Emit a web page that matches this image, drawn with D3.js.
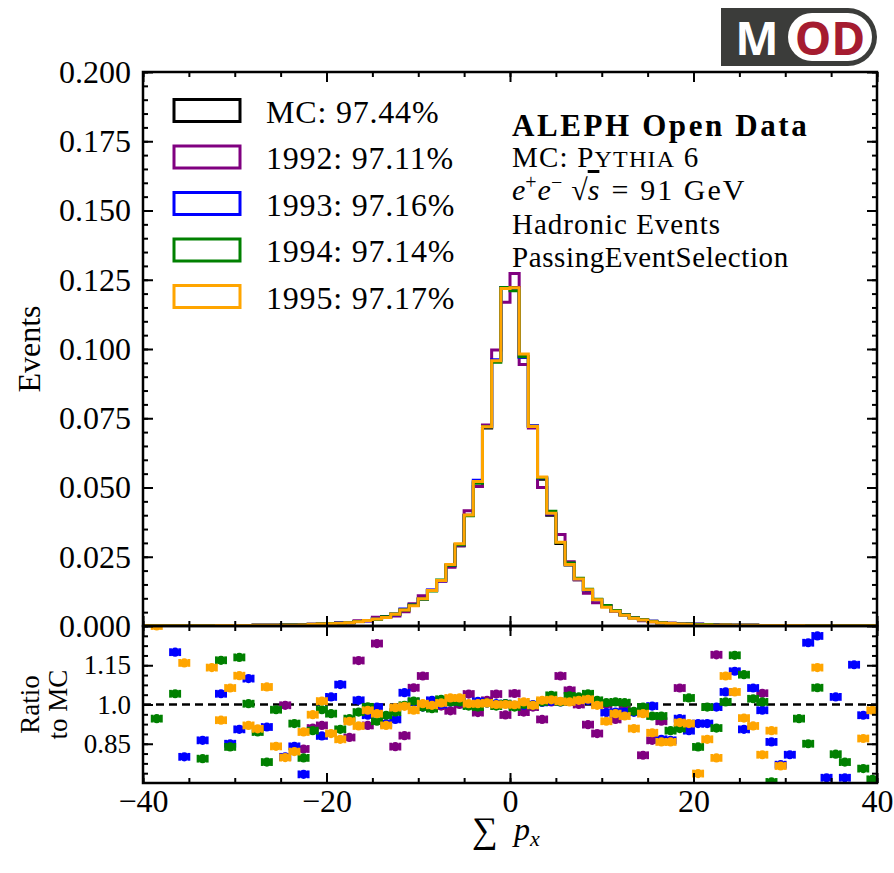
<!DOCTYPE html>
<meta charset="utf-8">
<html>
<head>
<!-- Load d3.js -->
<script src="https://d3js.org/d3.v7.min.js"></script>
<style>
  body { margin: 0; background: #fff; }
  svg text { font-family: "Liberation Serif", "DejaVu Serif", serif; fill: #000; }
</style>
</head>
<body>
<div id="my_dataviz"></div>
<script>

// bins of width 1 from -40 to 40 (left edges)
var binEdges = d3.range(-40, 40);

// normalised event counts per bin
var mc = [
  0.0001,0.0001,0.0001,0.0001,0.0001,0.0001,0.0001,0.0001,0.0002,0.0002,
  0.0002,0.0002,0.0003,0.0003,0.0003,0.0004,0.0004,0.0005,0.0006,0.0007,
  0.0009,0.0011,0.0013,0.0016,0.0020,0.0026,0.0034,0.0043,0.0058,0.0075,
  0.0098,0.0128,0.0163,0.0217,0.0290,0.0400,0.0520,0.0715,0.0958,0.1218,
  0.1222,0.0972,0.0722,0.0530,0.0400,0.0298,0.0220,0.0167,0.0128,0.0095,
  0.0073,0.0055,0.0041,0.0031,0.0023,0.0017,0.0013,0.0010,0.0008,0.0007,
  0.0006,0.0005,0.0004,0.0004,0.0003,0.0003,0.0003,0.0002,0.0002,0.0002,
  0.0002,0.0002,0.0001,0.0001,0.0001,0.0001,0.0001,0.0001,0.0001,0.0001];
var y1992 = [
  0.0001,0.0001,0.0001,0.0001,0.0001,0.0001,0.0001,0.0001,0.0002,0.0002,
  0.0002,0.0002,0.0003,0.0003,0.0003,0.0004,0.0004,0.0004,0.0005,0.0006,
  0.0009,0.0011,0.0011,0.0019,0.0018,0.0032,0.0033,0.0036,0.0051,0.0080,
  0.0109,0.0129,0.0162,0.0212,0.0290,0.0416,0.0504,0.0726,0.0996,0.1169,
  0.1273,0.0944,0.0715,0.0500,0.0404,0.0330,0.0232,0.0167,0.0118,0.0084,
  0.0072,0.0052,0.0041,0.0030,0.0019,0.0015,0.0012,0.0010,0.0009,0.0007,
  0.0006,0.0005,0.0005,0.0004,0.0003,0.0003,0.0003,0.0002,0.0002,0.0002,
  0.0002,0.0002,0.0001,0.0001,0.0001,0.0001,0.0001,0.0001,0.0001,0.0001];
var y1993 = [
  0.0001,0.0001,0.0001,0.0001,0.0001,0.0001,0.0001,0.0001,0.0002,0.0002,
  0.0002,0.0002,0.0003,0.0003,0.0003,0.0003,0.0003,0.0004,0.0006,0.0006,
  0.0009,0.0012,0.0013,0.0016,0.0019,0.0026,0.0032,0.0041,0.0061,0.0076,
  0.0097,0.0130,0.0163,0.0219,0.0293,0.0399,0.0526,0.0719,0.0961,0.1222,
  0.1218,0.0969,0.0722,0.0534,0.0405,0.0301,0.0223,0.0170,0.0130,0.0095,
  0.0071,0.0053,0.0040,0.0030,0.0022,0.0017,0.0011,0.0009,0.0008,0.0006,
  0.0006,0.0005,0.0004,0.0004,0.0003,0.0003,0.0003,0.0002,0.0002,0.0002,
  0.0002,0.0002,0.0001,0.0001,0.0001,0.0001,0.0001,0.0001,0.0001,0.0001];
var y1994 = [
  0.0001,0.0001,0.0001,0.0001,0.0001,0.0001,0.0001,0.0001,0.0002,0.0002,
  0.0002,0.0002,0.0003,0.0003,0.0003,0.0004,0.0004,0.0004,0.0005,0.0007,
  0.0009,0.0010,0.0012,0.0016,0.0020,0.0024,0.0033,0.0042,0.0058,0.0076,
  0.0097,0.0126,0.0166,0.0219,0.0293,0.0398,0.0515,0.0719,0.0952,0.1222,
  0.1210,0.0972,0.0720,0.0535,0.0414,0.0301,0.0227,0.0172,0.0133,0.0097,
  0.0074,0.0056,0.0041,0.0030,0.0023,0.0016,0.0012,0.0009,0.0007,0.0007,
  0.0005,0.0005,0.0004,0.0004,0.0003,0.0003,0.0003,0.0002,0.0001,0.0002,
  0.0002,0.0002,0.0001,0.0001,0.0001,0.0001,0.0001,0.0001,0.0001,0.0001];
var y1995 = [
  0.0001,0.0001,0.0001,0.0001,0.0001,0.0001,0.0001,0.0001,0.0002,0.0002,
  0.0002,0.0002,0.0003,0.0003,0.0003,0.0003,0.0003,0.0004,0.0006,0.0007,
  0.0008,0.0010,0.0012,0.0015,0.0020,0.0025,0.0031,0.0042,0.0058,0.0073,
  0.0098,0.0128,0.0164,0.0222,0.0297,0.0401,0.0522,0.0719,0.0958,0.1218,
  0.1221,0.0982,0.0720,0.0538,0.0407,0.0302,0.0222,0.0170,0.0131,0.0095,
  0.0068,0.0053,0.0039,0.0028,0.0022,0.0015,0.0011,0.0009,0.0007,0.0006,
  0.0004,0.0004,0.0003,0.0004,0.0003,0.0003,0.0003,0.0002,0.0002,0.0002,
  0.0002,0.0002,0.0001,0.0001,0.0001,0.0001,0.0001,0.0001,0.0001,0.0001];

// ratio to MC per bin (null = outside the shown range)
var r1992 = [
  null,null,null,null,null,null,null,null,null,null,
  null,null,null,null,null,0.997,null,0.83,0.91,0.92,
  null,null,0.874,1.168,0.92,1.233,null,0.839,0.881,1.064,
  1.109,1.01,0.994,0.976,1.0,1.04,0.969,1.016,1.04,0.96,
  1.042,0.971,0.99,0.943,1.01,1.109,1.054,1.0,0.923,0.889,
  1.0,0.943,0.99,null,0.806,0.863,0.936,null,1.063,null,
  null,null,1.19,null,null,null,null,1.043,null,null,
  null,null,null,null,null,null,null,null,null,null];
var r1993 = [
  null,null,null,1.20,0.80,null,0.863,null,1.041,0.85,
  0.905,1.099,null,0.914,null,0.80,0.84,0.733,null,0.88,
  1.029,1.076,null,1.016,0.959,0.99,0.927,0.943,1.045,1.01,
  0.99,1.016,1.0,1.01,1.01,0.997,1.012,1.006,1.003,1.003,
  0.997,0.997,1.0,1.008,1.012,1.01,1.012,1.02,1.016,1.003,
  0.969,0.971,0.971,0.97,0.975,0.994,0.867,0.863,0.946,0.9,
  0.927,0.927,0.99,1.048,1.127,0.905,1.063,0.978,0.857,0.77,
  0.808,null,1.236,1.262,0.72,1.029,0.72,1.152,0.959,null];
var r1994 = [
  null,0.946,null,1.041,null,null,0.793,null,1.169,0.838,
  1.18,1.003,0.895,0.78,0.98,null,0.927,0.796,0.90,0.98,
  0.965,0.905,0.946,0.971,0.991,0.936,0.959,0.971,0.997,1.013,
  0.99,0.984,1.02,1.01,1.01,0.994,0.99,1.006,0.994,1.003,
  0.99,1.0,0.997,1.01,1.035,1.01,1.033,1.029,1.041,1.016,
  1.007,1.01,1.007,0.974,0.99,0.956,0.956,0.9,0.908,1.025,
  0.838,0.99,0.91,1.01,1.188,1.114,1.022,1.01,0.704,null,
  null,0.946,0.85,1.064,null,0.81,0.78,null,0.755,0.714];
var r1995 = [
  null,1.30,null,null,1.159,null,null,1.141,0.94,1.063,
  1.11,0.92,0.907,1.067,0.84,0.797,0.82,0.895,0.961,1.013,
  0.889,0.867,0.936,0.918,0.978,0.965,0.92,0.988,0.993,0.978,
  1.003,0.997,1.006,1.025,1.025,1.003,1.003,1.006,1.0,1.0,
  0.999,1.01,0.997,1.016,1.018,1.012,1.01,1.016,1.02,0.997,
  0.936,0.965,0.956,0.908,0.965,0.892,0.857,0.857,0.931,0.927,
  0.736,0.867,0.796,1.109,1.048,0.948,0.918,0.808,0.9,0.765,
  null,null,null,1.141,null,null,null,null,0.87,0.978];

var seriesNames = ["MC", "1992", "1993", "1994", "1995"];
var seriesColors = ["#000000", "#800080", "#0000ff", "#008000", "#ffa500"];
var legendLabels = ["MC: 97.44%", "1992: 97.11%", "1993: 97.16%", "1994: 97.14%", "1995: 97.17%"];
var yTicks = [0, 0.025, 0.05, 0.075, 0.1, 0.125, 0.15, 0.175, 0.2];
var ratioTicks = [0.85, 1.0, 1.15];
var xTicks = [-40, -20, 0, 20, 40];

var hists = [mc, y1992, y1993, y1994, y1995];
var ratios = [null, r1992, r1993, r1994, r1995];

// layout (panel edges in px)
var W = 894, H = 873;
var padL = 143, padR = 877, padT = 72, padM = 626, padB = 783;

var svg = d3.select("#my_dataviz")
  .append("svg")
    .attr("width", W)
    .attr("height", H);

var x = d3.scaleLinear().domain([-40, 40]).range([padL, padR]);
var y = d3.scaleLinear().domain([0, 0.2]).range([padM, padT]);
var yr = d3.scaleLinear().domain([0.7, 1.3]).range([padB, padM]);

// clip paths for the two panels
var defs = svg.append("defs");
defs.append("clipPath").attr("id", "clipMain")
  .append("rect").attr("x", padL).attr("y", padT - 2).attr("width", padR - padL).attr("height", padM - padT + 2);
defs.append("clipPath").attr("id", "clipRatio")
  .append("rect").attr("x", padL).attr("y", padM).attr("width", padR - padL).attr("height", padB - padM);

// step histograms
var stepLine = d3.line()
  .x(function(d) { return x(d[0]); })
  .y(function(d) { return y(d[1]); })
  .curve(d3.curveStepAfter);

var histG = svg.append("g").attr("clip-path", "url(#clipMain)");
hists.forEach(function(vals, k) {
  var pts = [[-40, 0]];
  binEdges.forEach(function(e, i) { pts.push([e, vals[i]]); });
  pts.push([40, vals[vals.length - 1]]);
  pts.push([40, 0]);
  histG.append("path")
    .datum(pts)
    .attr("d", stepLine)
    .attr("fill", "none")
    .attr("stroke", seriesColors[k])
    .attr("stroke-width", 3);
});

// dashed line at ratio 1
svg.append("line")
  .attr("x1", x(-40)).attr("x2", x(40))
  .attr("y1", yr(1)).attr("y2", yr(1))
  .attr("stroke", "#000")
  .attr("stroke-width", 2.5)
  .attr("stroke-dasharray", "8,5");

// ratio markers: point with horizontal error bar and caps
var ratioG = svg.append("g").attr("clip-path", "url(#clipRatio)");
var half = (x(1) - x(0)) / 2;
ratios.forEach(function(vals, k) {
  if (!vals) return;
  var pts = [];
  vals.forEach(function(v, i) { if (v !== null) pts.push({c: binEdges[i] + 0.5, v: v}); });
  var m = ratioG.selectAll(".m" + k)
    .data(pts)
    .enter()
    .append("g")
      .attr("class", "m" + k)
      .attr("transform", function(d) { return "translate(" + x(d.c) + "," + yr(d.v) + ")"; })
      .attr("stroke", seriesColors[k])
      .attr("fill", seriesColors[k]);
  m.append("line").attr("x1", -half).attr("x2", half).attr("y1", 0).attr("y2", 0).attr("stroke-width", 2.8);
  m.append("line").attr("x1", -half).attr("x2", -half).attr("y1", -3.9).attr("y2", 3.9).attr("stroke-width", 2.8);
  m.append("line").attr("x1", half).attr("x2", half).attr("y1", -3.9).attr("y2", 3.9).attr("stroke-width", 2.8);
  m.append("circle").attr("r", 4.6).attr("stroke", "none");
});

// axes helper: inward ticks, no domain line
function addAxis(axis, tx, ty, fontSize) {
  var g = svg.append("g")
    .attr("transform", "translate(" + tx + "," + ty + ")")
    .call(axis);
  g.select(".domain").remove();
  g.selectAll(".tick line").attr("stroke", "#000").attr("stroke-width", 2);
  g.attr("font-family", null).attr("font-size", fontSize || 32);
  g.selectAll("text").attr("fill", "#000");
  return g;
}

var minorY = d3.range(0, 41).map(function(k) { return k * 0.005; });
var minorX = d3.range(-40, 41, 5);
var minorR = d3.range(1, 16).map(function(k) { return 0.7 + k * 0.0375; });

// main panel
addAxis(d3.axisLeft(y).tickValues(yTicks).tickSize(-10).tickPadding(12).tickFormat(d3.format(".3f")), padL, 0, 32);
addAxis(d3.axisLeft(y).tickValues(minorY).tickSize(-5).tickFormat(""), padL, 0);
addAxis(d3.axisRight(y).tickValues(yTicks).tickSize(-10).tickFormat(""), padR, 0);
addAxis(d3.axisRight(y).tickValues(minorY).tickSize(-5).tickFormat(""), padR, 0);
addAxis(d3.axisTop(x).tickValues(xTicks).tickSize(-10).tickFormat(""), 0, padT);
addAxis(d3.axisTop(x).tickValues(minorX).tickSize(-5).tickFormat(""), 0, padT);
addAxis(d3.axisBottom(x).tickValues(xTicks).tickSize(-10).tickFormat(""), 0, padM);
addAxis(d3.axisBottom(x).tickValues(minorX).tickSize(-5).tickFormat(""), 0, padM);

// ratio panel
addAxis(d3.axisLeft(yr).tickValues(ratioTicks).tickSize(-10).tickPadding(12)
  .tickFormat(function(d) { return d === 1 ? "1.0" : d3.format(".2f")(d); }), padL, 0, 27);
addAxis(d3.axisLeft(yr).tickValues(minorR).tickSize(-5).tickFormat(""), padL, 0);
addAxis(d3.axisRight(yr).tickValues(ratioTicks).tickSize(-10).tickFormat(""), padR, 0);
addAxis(d3.axisRight(yr).tickValues(minorR).tickSize(-5).tickFormat(""), padR, 0);
addAxis(d3.axisTop(x).tickValues(xTicks).tickSize(-10).tickFormat(""), 0, padM);
addAxis(d3.axisTop(x).tickValues(minorX).tickSize(-5).tickFormat(""), 0, padM);
addAxis(d3.axisBottom(x).tickValues(xTicks).tickSize(-10).tickPadding(6), 0, padB, 32);
addAxis(d3.axisBottom(x).tickValues(minorX).tickSize(-5).tickFormat(""), 0, padB);

// frames
svg.append("rect").attr("x", padL).attr("y", padT).attr("width", padR - padL).attr("height", padM - padT)
  .attr("fill", "none").attr("stroke", "#000").attr("stroke-width", 2.5);
svg.append("rect").attr("x", padL).attr("y", padM).attr("width", padR - padL).attr("height", padB - padM)
  .attr("fill", "none").attr("stroke", "#000").attr("stroke-width", 2.5);

// axis labels
svg.append("text")
  .attr("transform", "translate(40," + ((padT + padM) / 2) + ") rotate(-90)")
  .attr("text-anchor", "middle")
  .attr("font-size", 32)
  .text("Events");
svg.append("text")
  .attr("transform", "translate(39," + ((padM + padB) / 2) + ") rotate(-90)")
  .attr("text-anchor", "middle")
  .attr("font-size", 27)
  .text("Ratio");
svg.append("text")
  .attr("transform", "translate(67," + ((padM + padB) / 2) + ") rotate(-90)")
  .attr("text-anchor", "middle")
  .attr("font-size", 27)
  .text("to MC");

// x label: sum sign and p_x as separate texts
svg.append("text").attr("x", 472).attr("y", 842).attr("font-size", 36).text("\u2211");
var xl = svg.append("text").attr("x", 514).attr("y", 840).attr("font-size", 32);
xl.append("tspan").attr("font-style", "italic").text("p");
xl.append("tspan").attr("font-style", "italic").attr("font-size", 22).attr("dy", 6).text("x");

// legend
var leg = svg.append("g");
legendLabels.forEach(function(lab, k) {
  var cy = 110.5 + k * 46.5;
  leg.append("rect")
    .attr("x", 174).attr("y", cy - 11).attr("width", 66).attr("height", 22)
    .attr("fill", "none").attr("stroke", seriesColors[k]).attr("stroke-width", 3);
  leg.append("text")
    .attr("x", 266).attr("y", cy + 12)
    .attr("font-size", 32)
    .attr("letter-spacing", 0.8)
    .text(lab);
});

// info text block
var tx = 512;
svg.append("text").attr("x", tx).attr("y", 136).attr("font-size", 31).attr("font-weight", "bold")
  .attr("letter-spacing", 2.6).text("ALEPH Open Data");
var mcText = svg.append("text").attr("x", tx).attr("y", 167).attr("font-size", 29).attr("letter-spacing", 1.2);
mcText.append("tspan").text("MC: P");
mcText.append("tspan").attr("font-size", 24).text("YTHIA");
mcText.append("tspan").text(" 6");
var ee = svg.append("text").attr("x", tx).attr("y", 200).attr("font-size", 30);
ee.append("tspan").attr("font-style", "italic").text("e");
ee.append("tspan").attr("font-size", 20).attr("dy", -11).text("+");
ee.append("tspan").attr("font-style", "italic").attr("dy", 11).attr("dx", 1).text("e");
ee.append("tspan").attr("font-size", 20).attr("dy", -11).text("\u2212");
ee.append("tspan").attr("dy", 11).attr("dx", 9).text("\u221A");
ee.append("tspan").attr("font-style", "italic").style("text-decoration", "overline").text("s");
ee.append("tspan").attr("dx", 12).text("=");
ee.append("tspan").attr("dx", 12).attr("letter-spacing", 2).text("91 GeV");
svg.append("text").attr("x", tx).attr("y", 234).attr("font-size", 29).attr("letter-spacing", 1).text("Hadronic Events");
svg.append("text").attr("x", tx).attr("y", 267).attr("font-size", 29).attr("letter-spacing", 0.6).text("PassingEventSelection");

// MOD logo
var logo = svg.append("g");
logo.append("path")
  .attr("d", "M721,8 H848 A29,29 0 0 1 848,66 H721 Z")
  .attr("fill", "#3b3c3a");
logo.append("rect")
  .attr("x", 788).attr("y", 13).attr("width", 84).attr("height", 48).attr("rx", 24)
  .attr("fill", "#fff");
logo.append("text").attr("x", 757).attr("y", 55).attr("text-anchor", "middle")
  .style("font-family", "'Open Sans', 'DejaVu Sans', sans-serif")
  .attr("font-size", 46).attr("font-weight", "bold").style("fill", "#fff").text("M");
logo.append("text").attr("x", 830).attr("y", 55).attr("text-anchor", "middle")
  .style("font-family", "'Open Sans', 'DejaVu Sans', sans-serif")
  .attr("font-size", 46).attr("font-weight", "bold").style("fill", "#a51c30").text("OD");

</script>
</body>
</html>
